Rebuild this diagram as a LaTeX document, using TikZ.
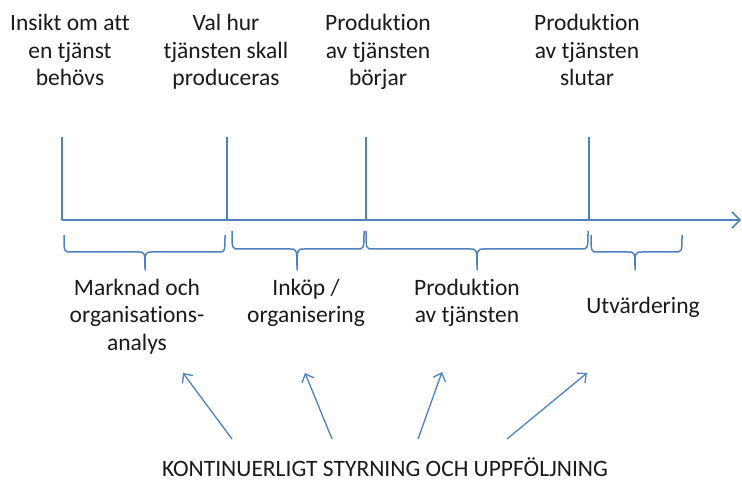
\documentclass[tikz,border=0pt]{standalone}
\usepackage{fontspec}
\setmainfont{Carlito}[Ligatures=NoCommon]
\usetikzlibrary{arrows.meta}
\definecolor{lineblue}{HTML}{4F81BD}
\definecolor{textdark}{HTML}{1A1A1A}
\tikzset{
  axisline/.style={draw=lineblue, line width=1.5pt},
  brace/.style={draw=lineblue, line width=1.5pt, line join=round},
  steer/.style={draw=lineblue, line width=1.3pt,
    -{Straight Barb[length=7pt,width=13pt,line width=1.3pt]}},
  lbl/.style={font=\fontsize{23.5}{27.5}\selectfont, text=textdark,
    align=center, inner sep=0pt, anchor=base}
}
% curly brace below one phase of the time line
\newcommand\phasebrace[5]{% left x, right x, tip x, end y, flat y
  \draw[brace] (#1,#4) .. controls (#1,#5) .. (#1+7,#5) -- (#3-7,#5)
    .. controls (#3,#5) .. (#3,270) .. controls (#3,#5) .. (#3+7,#5)
    -- (#2-7,#5) .. controls (#2,#5) .. (#2,#4);}
\begin{document}
\begin{tikzpicture}[x=1pt,y=-1pt]
\useasboundingbox (0,0) rectangle (742,481);

% milestones above the time line (base = last line)
\node[lbl] (m1) at (70,86) {Insikt om att\\en tjänst\\behövs};
\node[lbl] (m2) at (226,86) {Val hur\\tjänsten skall\\produceras};
\node[lbl] (m3) at (378,86) {Produktion\\av tjänsten\\börjar};
\node[lbl] (m4) at (587,86) {Produktion\\av tjänsten\\slutar};

% time line and milestone markers
\coordinate (a0) at (62,220);
\coordinate (aEnd) at (741,220);
\coordinate (v1t) at (62,137);  \coordinate (v1b) at (62,220);
\coordinate (v2t) at (227,137); \coordinate (v2b) at (227,220);
\coordinate (v3t) at (366,137); \coordinate (v3b) at (366,220);
\coordinate (v4t) at (589,137); \coordinate (v4b) at (589,220);
\draw[axisline, -{Straight Barb[length=8pt,width=16pt,line width=1.5pt]}] (a0) -- (aEnd);
\draw[axisline] (v1t) -- (v1b);
\draw[axisline] (v2t) -- (v2b);
\draw[axisline] (v3t) -- (v3b);
\draw[axisline] (v4t) -- (v4b);

% phases
\phasebrace{64}{225}{145}{235}{252}
\phasebrace{232}{364}{297}{231}{249}
\phasebrace{366}{588}{477}{231}{249}
\phasebrace{591}{682}{635}{235}{252}

\node[lbl] (p1) at (137,350) {Marknad och\\organisations-\\analys};
\node[lbl] (p2) at (306,322.5) {Inköp /\\organisering};
\node[lbl] (p3) at (467,322.5) {Produktion\\av tjänsten};
\node[lbl] (p4) at (643,313) {Utvärdering};

% continuous steering
\node[lbl] (ks) at (385,476) {KONTINUERLIGT STYRNING OCH UPPFÖLJNING};
\coordinate (s1) at (232,439); \coordinate (e1) at (183,373);
\coordinate (s2) at (332,439); \coordinate (e2) at (305,373);
\coordinate (s3) at (418,439); \coordinate (e3) at (442,372);
\coordinate (s4) at (507,439); \coordinate (e4) at (587,373);
\draw[steer] (s1) -- (e1);
\draw[steer] (s2) -- (e2);
\draw[steer] (s3) -- (e3);
\draw[steer] (s4) -- (e4);
\end{tikzpicture}
\end{document}
